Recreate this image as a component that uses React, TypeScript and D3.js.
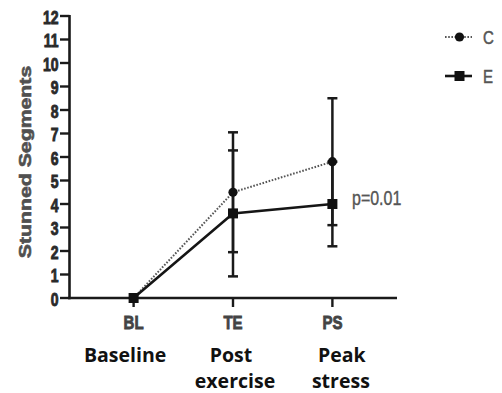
import React from "react";
import * as d3 from "d3";

// Time points and their longer descriptions
const categories = ["BL", "TE", "PS"];
const descriptions = [["Baseline"], ["Post", "exercise"], ["Peak", "stress"]];

// Stunned segment means and error bars per group
const seriesNames = ["C", "E"];
const meanC = [0, 4.5, 5.8];
const errC = [0, 2.55, 2.7];
const meanE = [0, 3.6, 4.0];
const errE = [0, 2.68, 1.8];

const yTicks = [0, 1, 2, 3, 4, 5, 6, 7, 8, 9, 10, 11, 12];
const yTitle = "Stunned Segments";
const pLabel = "p=0.01";

const W = 502;
const H = 393;
const STRETCH = 1.28; // tall, narrow lettering of the graph labels
const ARIAL = "'Liberation Sans', Arial, sans-serif";

// per-line horizontal nudges for the description text
const descOffsets = [[-8.5], [-2, 2], [9.5, 8.5]];

function StretchText({ x, cy, size, children, anchor = "middle", weight = "bold", fill = "#3a3a3a", heavy = 0 }) {
  const base = cy + 0.358 * size * STRETCH;
  return (
    <text
      transform={`translate(${x},${base}) scale(1,${STRETCH})`}
      textAnchor={anchor}
      fontFamily={ARIAL}
      fontWeight={weight}
      fontSize={size}
      fill={fill}
      stroke={heavy ? fill : "none"}
      strokeWidth={heavy}
    >
      {children}
    </text>
  );
}

export default function App() {
  const x = d3.scalePoint().domain(categories).range([69, 397]).padding(0.65);
  const y = d3.scaleLinear().domain([0, 12]).range([298, 16]);

  const line = d3
    .line<number>()
    .x((_, i) => x(categories[i]) as number)
    .y((d) => y(d));

  const axisColor = "#1a1a1a";
  const capW = 5;

  const errorBars = (means: number[], errs: number[], key: string) =>
    means.map((m, i) => {
      if (errs[i] === 0) return null;
      const cx = x(categories[i]) as number;
      const top = y(m + errs[i]);
      const bot = y(m - errs[i]);
      return (
        <g key={key + i} stroke={axisColor} strokeWidth={2.5}>
          <line x1={cx} x2={cx} y1={top} y2={bot} />
          <line x1={cx - capW} x2={cx + capW} y1={top} y2={top} />
          <line x1={cx - capW} x2={cx + capW} y1={bot} y2={bot} />
        </g>
      );
    });

  const legendY = [37, 76];

  return (
    <svg width={W} height={H} style={{ display: "block", position: "absolute", left: 0, top: 0 }}>
      <rect width={W} height={H} fill="#fff" />

      {/* y axis */}
      <line x1={69.5} x2={69.5} y1={y(12) - 1} y2={y(0) + 1.2} stroke={axisColor} strokeWidth={2.6} />
      {yTicks.map((t) => (
        <g key={t}>
          <line x1={60} x2={69.5} y1={y(t)} y2={y(t)} stroke={axisColor} strokeWidth={2.4} />
          <StretchText x={58.5} cy={y(t) + 1.5} size={14} anchor="end" fill="#2a2a2a" heavy={0.7}>
            {t}
          </StretchText>
        </g>
      ))}
      <text
        transform={`translate(${25 + 0.358 * 17},162) scale(1,1.25) rotate(-90)`}
        textAnchor="middle"
        fontFamily={ARIAL}
        fontWeight="bold"
        fontSize={17}
        fill="#505050"
        stroke="#505050"
        strokeWidth={0.6}
      >
        {yTitle}
      </text>

      {/* x axis */}
      <line x1={68.2} x2={397} y1={y(0)} y2={y(0)} stroke={axisColor} strokeWidth={2.6} />
      {categories.map((c, i) => {
        const cx = x(c) as number;
        return (
          <g key={c}>
            <line x1={cx} x2={cx} y1={y(0)} y2={y(0) + 9} stroke={axisColor} strokeWidth={2.4} />
            <StretchText x={cx} cy={321.7} size={15} fill="#444" heavy={0.7}>
              {c}
            </StretchText>
            {descriptions[i].map((d, j) => (
              <text
                key={d}
                x={cx + descOffsets[i][j]}
                y={362 + j * 26}
                textAnchor="middle"
                fontFamily="'Open Sans', sans-serif"
                fontWeight={700}
                fontSize={19.5}
                fill="#111"
              >
                {d}
              </text>
            ))}
          </g>
        );
      })}

      {/* error bars */}
      {errorBars(meanC, errC, "c")}
      {errorBars(meanE, errE, "e")}

      {/* series lines */}
      <path d={line(meanC) as string} fill="none" stroke="#555" strokeWidth={2} strokeDasharray="1.6,1.6" />
      <path d={line(meanE) as string} fill="none" stroke="#151515" strokeWidth={2.6} />

      {/* markers */}
      {meanC.map((m, i) => (
        <circle key={"mc" + i} cx={x(categories[i]) as number} cy={y(m)} r={4.6} fill="#111" />
      ))}
      {meanE.map((m, i) => (
        <rect
          key={"me" + i}
          x={(x(categories[i]) as number) - 5}
          y={y(m) - 5}
          width={10}
          height={10}
          fill="#111"
        />
      ))}

      {/* significance label */}
      <StretchText x={352} cy={198} size={16} anchor="start" weight="normal" fill="#555" heavy={0.3}>
        {pLabel}
      </StretchText>

      {/* legend */}
      {seriesNames.map((s, i) => {
        const ly = legendY[i];
        return (
          <g key={s}>
            {i === 0 ? (
              <>
                <line x1={445} x2={472} y1={ly} y2={ly} stroke="#555" strokeWidth={2} strokeDasharray="1.6,1.6" />
                <circle cx={459.5} cy={ly} r={4.6} fill="#111" />
              </>
            ) : (
              <>
                <line x1={445} x2={472} y1={ly} y2={ly} stroke="#151515" strokeWidth={2.6} />
                <rect x={454.5} y={ly - 5} width={10} height={10} fill="#111" />
              </>
            )}
            <StretchText x={483} cy={ly} size={15} anchor="start" weight="normal" fill="#555" heavy={0.4}>
              {s}
            </StretchText>
          </g>
        );
      })}
    </svg>
  );
}
